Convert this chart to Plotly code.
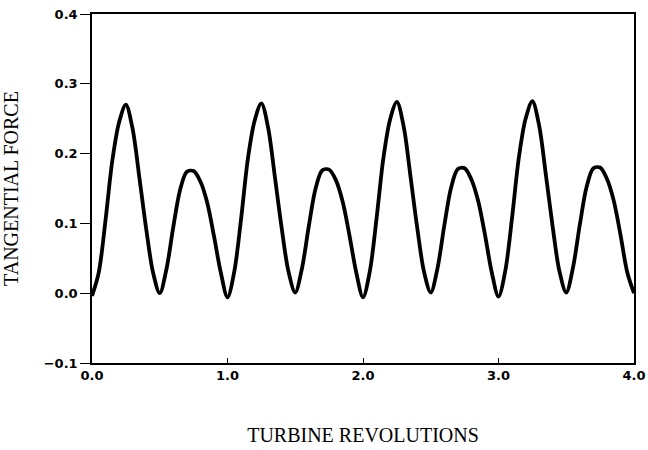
import plotly.graph_objects as go

# Turbine revolutions (sampled every 0.05 rev)
revolutions = [
    0.00, 0.05, 0.10, 0.15, 0.20, 0.25, 0.30, 0.35, 0.40, 0.45,
    0.50, 0.55, 0.60, 0.65, 0.70, 0.75, 0.80, 0.85, 0.90, 0.95,
    1.00, 1.05, 1.10, 1.15, 1.20, 1.25, 1.30, 1.35, 1.40, 1.45,
    1.50, 1.55, 1.60, 1.65, 1.70, 1.75, 1.80, 1.85, 1.90, 1.95,
    2.00, 2.05, 2.10, 2.15, 2.20, 2.25, 2.30, 2.35, 2.40, 2.45,
    2.50, 2.55, 2.60, 2.65, 2.70, 2.75, 2.80, 2.85, 2.90, 2.95,
    3.00, 3.05, 3.10, 3.15, 3.20, 3.25, 3.30, 3.35, 3.40, 3.45,
    3.50, 3.55, 3.60, 3.65, 3.70, 3.75, 3.80, 3.85, 3.90, 3.95,
    4.00,
]

# Tangential force over four revolutions
tangential_force = [
    -0.004, 0.030, 0.105, 0.190, 0.245, 0.270, 0.235, 0.165, 0.092, 0.030,
    0.000, 0.035, 0.095, 0.148, 0.174, 0.175, 0.160, 0.130, 0.082, 0.030,
    -0.006, 0.031, 0.106, 0.192, 0.247, 0.272, 0.237, 0.166, 0.093, 0.031,
    0.001, 0.036, 0.096, 0.150, 0.176, 0.177, 0.162, 0.131, 0.083, 0.030,
    -0.006, 0.031, 0.107, 0.193, 0.249, 0.274, 0.239, 0.168, 0.094, 0.031,
    0.001, 0.036, 0.097, 0.151, 0.178, 0.179, 0.163, 0.132, 0.084, 0.030,
    -0.005, 0.032, 0.108, 0.194, 0.250, 0.275, 0.240, 0.169, 0.095, 0.031,
    0.001, 0.037, 0.098, 0.152, 0.179, 0.180, 0.164, 0.133, 0.084, 0.030,
    0.000,
]

x_ticks = [0.0, 1.0, 2.0, 3.0, 4.0]
x_tick_labels = ["0.0", "1.0", "2.0", "3.0", "4.0"]
y_ticks = [-0.1, 0.0, 0.1, 0.2, 0.3, 0.4]
y_tick_labels = ["\u22120.1", "0.0", "0.1", "0.2", "0.3", "0.4"]

fig = go.Figure(
    go.Scatter(
        x=revolutions,
        y=tangential_force,
        mode="lines",
        line=dict(color="black", width=3.8, shape="spline", smoothing=0.9),
        hoverinfo="skip",
    )
)

tick_font = dict(family="DejaVu Sans", size=13, color="black", weight="bold")
title_font = dict(family="Liberation Serif", size=20, color="black")

fig.update_layout(
    width=648,
    height=450,
    margin=dict(l=92, r=14, t=14, b=87),
    paper_bgcolor="white",
    plot_bgcolor="white",
    showlegend=False,
    xaxis=dict(
        range=[0, 4],
        tickvals=x_ticks,
        ticktext=x_tick_labels,
        ticks="inside",
        ticklen=5,
        tickwidth=1.2,
        tickcolor="black",
        showline=True,
        linecolor="black",
        linewidth=1.5,
        mirror=True,
        showgrid=False,
        zeroline=False,
        automargin=False,
        tickfont=tick_font,
        title=dict(text="TURBINE REVOLUTIONS", font=title_font, standoff=46),
    ),
    yaxis=dict(
        range=[-0.1, 0.4],
        tickvals=y_ticks,
        ticktext=y_tick_labels,
        ticks="outside",
        ticklen=10,
        tickwidth=1.2,
        tickcolor="black",
        showline=True,
        linecolor="black",
        linewidth=1.5,
        mirror=True,
        showgrid=False,
        zeroline=False,
        automargin=False,
        tickfont=tick_font,
        title=dict(text="TANGENTIAL FORCE", font=title_font, standoff=24),
    ),
)

fig.write_html("out.html")
